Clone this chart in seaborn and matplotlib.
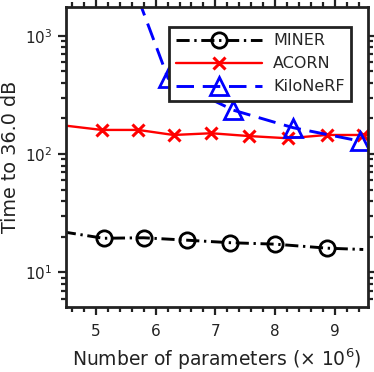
import numpy as np
import seaborn as sns
import matplotlib
matplotlib.use("Agg")
import matplotlib.pyplot as plt
from matplotlib.ticker import MultipleLocator, LogLocator, NullFormatter

# data (x in millions of parameters, y = time to 36 dB)
miner_x = [4.45, 5.13, 5.80, 6.52, 7.25, 8.00, 8.87, 9.47]
miner_y = [22.0, 19.4, 19.6, 18.7, 17.8, 17.3, 16.0, 15.6]

acorn_x = [4.45, 5.10, 5.71, 6.30, 6.93, 7.56, 8.21, 8.86, 9.47, 9.60]
acorn_y = [175, 160, 160, 145, 150, 142, 136, 145, 145, 145]

kilo_x = [5.15, 6.21, 7.30, 8.30, 9.41]
kilo_y = [11800, 436, 235, 167, 129]

sns.set_style("ticks")
plt.rcParams['font.family'] = ['DejaVu Sans']

fig = plt.figure(figsize=(3.74, 3.72), dpi=100)
ax = fig.add_axes([0.176, 0.175, 0.808, 0.806])

sns.lineplot(x=miner_x, y=miner_y, ax=ax, color='black', lw=2.1,
             linestyle=(0, (4.5, 1.6, 0.8, 1.6)),
             marker='o', ms=11, mfc='none', mec='black', mew=2,
             markevery=slice(1, 7), label='MINER')

sns.lineplot(x=acorn_x, y=acorn_y, ax=ax, color='red', lw=1.7,
             marker='x', ms=9, mec='red', mew=2.2,
             markevery=slice(1, 9), label='ACORN')

sns.lineplot(x=kilo_x, y=kilo_y, ax=ax, color='blue', lw=2.1,
             linestyle=(0, (6, 3)),
             marker='^', ms=13, mfc='none', mec='blue', mew=2, label='KiloNeRF')

ax.set_yscale('log')
ax.set_xlim(4.5, 9.55)
ax.set_ylim(5.1, 1750)
ax.xaxis.set_major_locator(MultipleLocator(1))
ax.xaxis.set_minor_locator(MultipleLocator(0.2))
ax.yaxis.set_major_locator(LogLocator(base=10))
ax.yaxis.set_minor_locator(LogLocator(base=10, subs=np.arange(2, 10)))
ax.yaxis.set_minor_formatter(NullFormatter())

for s in ax.spines.values():
    s.set_linewidth(2)
    s.set_color('#222222')
ax.tick_params(which='both', direction='out', top=True, right=True,
               width=1.6, color='#222222', labelsize=11, labelcolor='#222222')
ax.tick_params(which='major', length=6)
ax.tick_params(which='minor', length=3.5)
ax.tick_params(axis='x', which='major', pad=6)

ax.set_xlabel(r'Number of parameters ($\times$ 10$^6$)', fontsize=13.5,
              color='#222222', labelpad=6)
ax.set_ylabel('Time to 36.0 dB', fontsize=13.8, color='#222222', labelpad=4)

leg = ax.legend(loc='upper right', bbox_to_anchor=(0.97, 0.96), fontsize=11.5,
                handlelength=5.4, fancybox=False, framealpha=1,
                edgecolor='#222222', borderpad=0.4, labelspacing=0.5,
                handletextpad=0.7)
leg.get_frame().set_linewidth(2)

fig.savefig('out.png', dpi=100)
